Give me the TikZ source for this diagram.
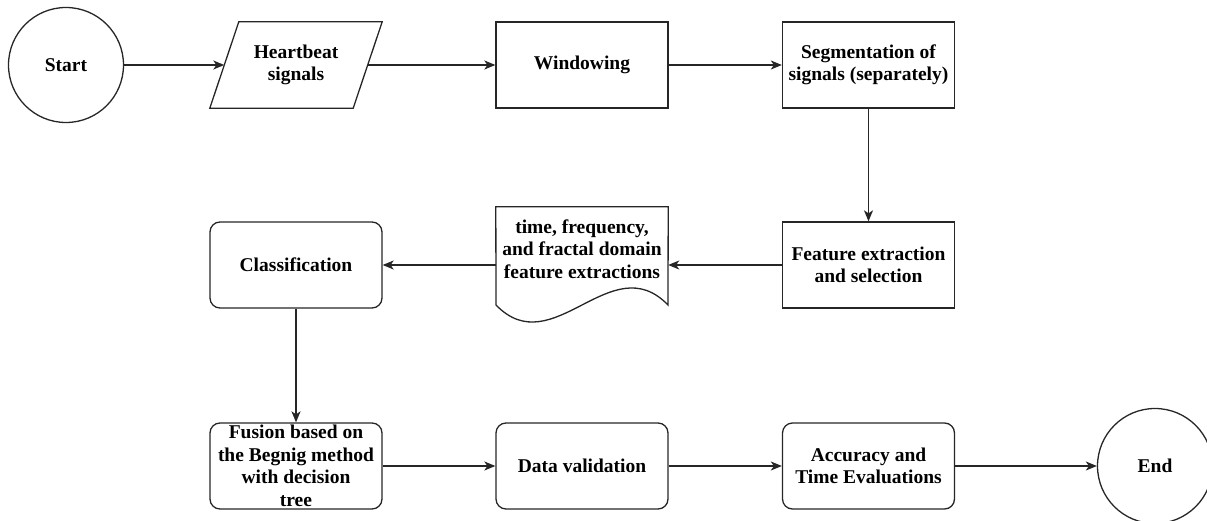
\documentclass[tikz,border=0pt]{standalone}
\usepackage{fontspec}
\newfontfamily\labelfont{LiberationSerif-Bold.ttf}
\usetikzlibrary{arrows.meta}
\begin{document}
\begin{tikzpicture}[x=1pt,y=-1pt,
  base/.style={font=\labelfont\fontsize{19.5}{22.5}\selectfont, align=center, inner sep=0pt},
  outline/.style={line width=1.3pt, draw=black!85},
  proc/.style={base, outline, rectangle, minimum width=172pt, minimum height=86pt},
  rproc/.style={proc, rounded corners=10pt},
  term/.style={base, outline, circle, minimum size=115pt},
  ghost/.style={base, minimum width=#1},
  flow/.style={line width=1.3pt, draw=black!85, -{Stealth[length=11pt,width=9pt,inset=3pt]}}
]
\useasboundingbox (0,0) rectangle (1207,521);

% top row
\node[term] (start) at (66,65) {Start};
\node[ghost=143pt, minimum height=86pt] (hb) at (296,65) {Heartbeat\\signals};
\draw[outline] ([xshift=14.5pt]hb.north west) -- ([xshift=14.5pt]hb.north east)
  -- ([xshift=-14.5pt]hb.south east) -- ([xshift=-14.5pt]hb.south west) -- cycle;
\node[proc] (win) at (582,65) {Windowing};
\node[proc] (seg) at (868.5,65) {Segmentation of\\signals (separately)};

% middle row
\node[proc] (feat) at (868.5,265) {Feature extraction\\and selection};
\node[ghost=172pt, minimum height=116pt] (doc) at (582,265) {};
\draw[outline] (doc.north east) -- (668,305)
  .. controls (611,246) and (553,364) .. (496,305) -- (doc.north west) -- cycle;
\node[base] (doctxt) at (582,249) {time, frequency,\\and fractal domain\\feature extractions};
\node[rproc] (cls) at (296,265) {Classification};

% bottom row
\node[rproc] (fus) at (296,466) {Fusion based on\\the Begnig method\\with decision\\tree};
\node[rproc] (val) at (582,466) {Data validation};
\node[rproc] (acc) at (868.5,466) {Accuracy and\\Time Evaluations};
\node[term] (end) at (1155,466) {End};

% connectors
\draw[flow] (start) -- (hb);
\draw[flow] (hb) -- (win);
\draw[flow] (win) -- (seg);
\draw[flow] (seg) -- (feat);
\draw[flow] (feat) -- (doc);
\draw[flow] (doc) -- (cls);
\draw[flow] (cls) -- (fus);
\draw[flow] (fus) -- (val);
\draw[flow] (val) -- (acc);
\draw[flow] (acc) -- (end);
\end{tikzpicture}
\end{document}
